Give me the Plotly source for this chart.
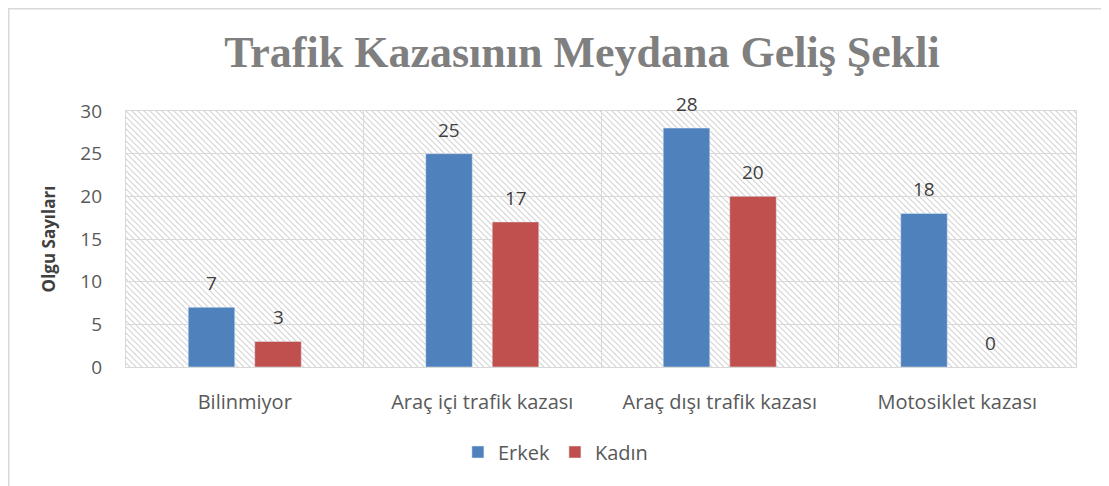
import base64
import plotly.graph_objects as go

categories = ["Bilinmiyor", "Araç içi trafik kazası", "Araç dışı trafik kazası", "Motosiklet kazası"]
erkek = [7, 25, 28, 18]
kadin = [3, 17, 20, 0]
series_names = ["Erkek", "Kadın"]
y_ticks = [0, 5, 10, 15, 20, 25, 30]
title_text = "Trafik Kazasının Meydana Geliş Şekli"
y_title = "Olgu Sayıları"

# the page body adds an 8px offset; the figure fills the rest of the window
W, H = 1101, 478
L, R, T, B = 118, 33, 103, 119
pw, ph = W - L - R, H - T - B

# diagonal hatch background for the plot area
svg = (
    f'<svg xmlns="http://www.w3.org/2000/svg" width="{pw}" height="{ph}">'
    '<defs><pattern id="p" patternUnits="userSpaceOnUse" width="6" height="6">'
    '<path d="M-1,-1 L7,7 M-7,-1 L1,7 M5,-1 L13,7" stroke="#D3D3D3" stroke-width="1.1"/>'
    '</pattern></defs>'
    f'<rect width="{pw}" height="{ph}" fill="url(#p)"/></svg>'
)
src = "data:image/svg+xml;base64," + base64.b64encode(svg.encode()).decode()

FONT = "Open Sans, Noto Sans, sans-serif"
label_font = dict(family=FONT, size=19, color="#404040")

bargap, bargroupgap = 0.44, 0.3
cat_px = pw / len(categories)
slot_px = cat_px * (1 - bargap) / 2

fig = go.Figure()
fig.add_trace(go.Bar(x=categories, y=erkek, name=series_names[0], marker_color="#4F81BD"))
fig.add_trace(go.Bar(x=categories, y=kadin, name=series_names[1], marker_color="#C0504D"))

annotations = []
for vals, sign in ((erkek, -1), (kadin, 1)):
    for c, v in zip(categories, vals):
        annotations.append(dict(
            x=c, y=v, xref="x", yref="y", text=str(v), showarrow=False,
            xshift=sign * slot_px / 2, yshift=24, yanchor="middle", font=label_font,
        ))

fig.update_layout(
    width=W, height=H,
    margin=dict(l=L, r=R, t=T, b=B),
    paper_bgcolor="white",
    plot_bgcolor="rgba(0,0,0,0)",
    barmode="group",
    bargap=bargap,
    bargroupgap=bargroupgap,
    title=dict(
        text=f"<b>{title_text}</b>",
        x=(582 - 8) / W, xanchor="center", y=1 - (52 - 8) / H, yanchor="middle",
        font=dict(family="Liberation Serif, DejaVu Serif, serif", size=44, color="#7F7F7F"),
    ),
    showlegend=True,
    legend=dict(
        orientation="h", x=0.452, xanchor="center", y=-(444 - (T + ph)) / ph, yanchor="middle",
        font=dict(family=FONT, size=20, color="#595959"),
        itemwidth=30, traceorder="normal",
    ),
    annotations=annotations,
    images=[dict(
        source=src, xref="paper", yref="paper", x=0, y=1, sizex=1, sizey=1,
        xanchor="left", yanchor="top", sizing="stretch", layer="below",
    )],
    shapes=[dict(
        type="rect", xref="paper", yref="paper",
        x0=-(L - 0.75) / pw, x1=(1097 - L) / pw, y0=-(B + 5) / ph, y1=1 + (T - 0.75) / ph,
        line=dict(color="#D9D9D9", width=1.5), fillcolor="rgba(0,0,0,0)", layer="below",
    )],
)

fig.update_xaxes(
    type="category", tickson="boundaries", showgrid=True, gridcolor="#D9D9D9", gridwidth=1.3,
    showline=True, linecolor="#D9D9D9", linewidth=1.3, mirror=True, ticks="",
    tickfont=dict(family=FONT, size=20, color="#595959"),
    ticklabelstandoff=17,
)
fig.update_yaxes(
    range=[0, 30], tickvals=y_ticks, showgrid=True, gridcolor="#D9D9D9", gridwidth=1.3,
    showline=True, linecolor="#D9D9D9", linewidth=1.3, mirror=True, zeroline=False, ticks="",
    tickfont=dict(family=FONT, size=19, color="#595959"),
    ticklabelstandoff=19,
    title=dict(text=f"<b>{y_title}</b>", standoff=20,
               font=dict(family=FONT, size=17, color="#404040")),
)

fig.write_html("out.html")
